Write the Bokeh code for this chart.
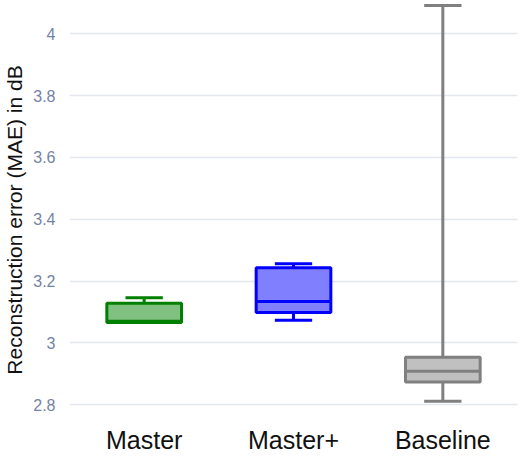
from bokeh.plotting import figure
from bokeh.models import FixedTicker, ColumnDataSource
from bokeh.embed import file_html
from bokeh.resources import INLINE

# ---- data ----
categories = ["Master", "Master+", "Baseline"]
lower = [3.066, 3.073, 2.811]
q1 = [3.066, 3.098, 2.873]
median = [3.070, 3.134, 2.908]
q3 = [3.128, 3.243, 2.953]
upper = [3.146, 3.256, 4.092]
y_ticks = [2.8, 3.0, 3.2, 3.4, 3.6, 3.8, 4.0]
y_tick_labels = ["2.8", "3", "3.2", "3.4", "3.6", "3.8", "4"]
line_colors = ["#008000", "#0000ff", "#808080"]
fill_colors = ["#80c080", "#8080ff", "#c0c0c0"]

xs = [i + 0.5 for i in range(len(categories))]
box_w = 0.5
cap_w = 0.25

src = ColumnDataSource(dict(
    x=xs, lower=lower, q1=q1, median=median, q3=q3, upper=upper,
    x0b=[x - box_w / 2 for x in xs], x1b=[x + box_w / 2 for x in xs],
    x0c=[x - cap_w / 2 for x in xs], x1c=[x + cap_w / 2 for x in xs],
    lc=line_colors, fc=fill_colors,
))

FONT = "Liberation Sans"

p = figure(width=520, height=456, output_backend="svg", toolbar_location=None,
           x_range=(0, 3), y_range=(2.687, 4.1082),
           min_border_left=68, min_border_right=3, min_border_top=0, min_border_bottom=0)
p.outline_line_color = None
p.background_fill_color = "white"
p.border_fill_color = "white"

# whiskers
p.segment(x0="x", y0="q3", x1="x", y1="upper", line_color="lc", line_width=3, source=src)
p.segment(x0="x", y0="lower", x1="x", y1="q1", line_color="lc", line_width=3, source=src)
# caps
p.segment(x0="x0c", y0="upper", x1="x1c", y1="upper", line_color="lc", line_width=3, source=src)
p.segment(x0="x0c", y0="lower", x1="x1c", y1="lower", line_color="lc", line_width=3, source=src)
# boxes
p.vbar(x="x", width=box_w, top="q3", bottom="q1", fill_color="fc", line_color="lc",
       line_width=3, source=src)
# medians
p.segment(x0="x0b", y0="median", x1="x1b", y1="median", line_color="lc", line_width=3, source=src)

# grid
p.xgrid.grid_line_color = None
p.ygrid.grid_line_color = "#e4e7f0"
p.ygrid.grid_line_width = 1.3

# axes
xa = p.xaxis[0]
xa.ticker = FixedTicker(ticks=xs)
xa.major_label_overrides = {x: c for x, c in zip(xs, categories)}
xa.axis_line_color = None
xa.major_tick_line_color = None
xa.minor_tick_line_color = None
xa.major_tick_out = 0
xa.major_label_standoff = -14
xa.major_label_text_font = FONT
xa.major_label_text_font_size = "25px"
xa.major_label_text_color = "#111111"

ya = p.yaxis[0]
ya.ticker = FixedTicker(ticks=y_ticks)
ya.major_label_overrides = {t: l for t, l in zip(y_ticks, y_tick_labels)}
ya.axis_line_color = None
ya.major_tick_line_color = None
ya.minor_tick_line_color = None
ya.major_tick_out = 0
ya.major_label_standoff = 14
ya.major_label_text_font = FONT
ya.major_label_text_font_size = "16px"
ya.major_label_text_color = "#7383a6"
ya.axis_label = "Reconstruction error (MAE) in dB"
ya.axis_label_text_font = FONT
ya.axis_label_text_font_size = "21px"
ya.axis_label_text_font_style = "normal"
ya.axis_label_text_color = "#111111"
ya.axis_label_standoff = 4

open("out.html", "w").write(file_html(p, INLINE))
